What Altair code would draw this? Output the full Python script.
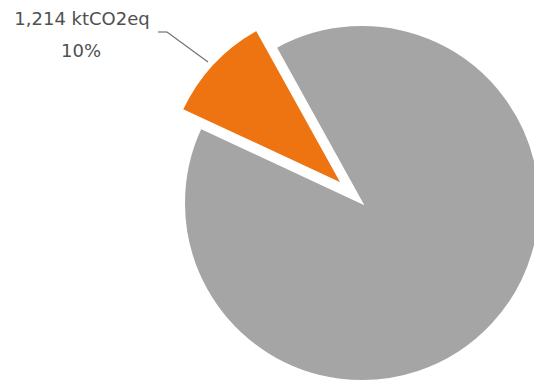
import math
import altair as alt
import pandas as pd

# ---- data ----
categories = ["Sector", "Other sectors"]
values = [1214, 10926]
order = [0, 1]
colors = ["#EE7311", "#A5A5A5"]

df = pd.DataFrame({"category": categories, "value": values, "order": order})

START = math.radians(295)
TWO_PI = 2 * math.pi
R = 178
CX, CY = 354, 195
EXPLODE_DX, EXPLODE_DY = -19, -18

base = (
    alt.Chart(df)
    .transform_joinaggregate(total="sum(value)")
    .transform_window(cum="sum(value)", sort=[alt.SortField("order")], frame=[None, 0])
    .transform_calculate(
        t1=f"{START} + {TWO_PI} * datum.cum / datum.total",
        t0=f"{START} + {TWO_PI} * (datum.cum - datum.value) / datum.total",
        pct="format(datum.value / datum.total, '.0%')",
        lab="format(datum.value, ',') + ' ktCO2eq'",
    )
)

color = alt.Color(
    "category:N",
    scale=alt.Scale(domain=categories, range=colors),
    legend=None,
)

gray = (
    base.transform_filter(alt.datum.category == categories[1])
    .mark_arc(outerRadius=R, stroke="white", strokeWidth=2)
    .encode(
        theta=alt.Theta("t0:Q", scale=None),
        theta2="t1:Q",
        color=color,
        x=alt.value(CX),
        y=alt.value(CY),
    )
)

orange = (
    base.transform_filter(alt.datum.category == categories[0])
    .mark_arc(outerRadius=R, stroke="white", strokeWidth=2.5)
    .encode(
        theta=alt.Theta("t0:Q", scale=None),
        theta2="t1:Q",
        color=color,
        x=alt.value(CX + EXPLODE_DX),
        y=alt.value(CY + EXPLODE_DY),
    )
)

lab_src = base.transform_filter(alt.datum.category == categories[0])

label1 = lab_src.mark_text(
    font="DejaVu Sans", fontSize=18, color="#505050", align="center", baseline="middle"
).encode(text="lab:N", x=alt.value(74), y=alt.value(12))

label2 = lab_src.mark_text(
    font="DejaVu Sans", fontSize=18, color="#505050", align="center", baseline="middle"
).encode(text="pct:N", x=alt.value(73), y=alt.value(44))

leader1 = lab_src.mark_rule(color="#737373", strokeWidth=1.2).encode(
    x=alt.value(150), x2=alt.value(159), y=alt.value(24), y2=alt.value(24)
)
leader2 = lab_src.mark_rule(color="#737373", strokeWidth=1.2).encode(
    x=alt.value(159), x2=alt.value(200), y=alt.value(24), y2=alt.value(54)
)

chart = (
    alt.layer(gray, orange, leader1, leader2, label1, label2)
    .properties(width=526, height=373, autosize=alt.AutoSizeParams(type="none"), padding=0)
    .configure_view(stroke=None)
)

chart.save("out.html", embed_options={"renderer": "svg", "actions": False})
